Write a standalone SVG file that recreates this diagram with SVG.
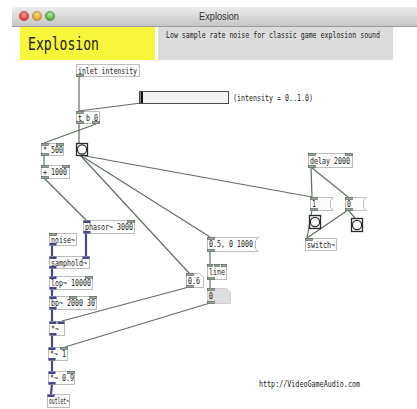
<svg xmlns="http://www.w3.org/2000/svg" width="417" height="409" viewBox="0 0 417 409">
<defs>
<linearGradient id="tb" x1="0" y1="0" x2="0" y2="1"><stop offset="0" stop-color="#ececec"/><stop offset="1" stop-color="#c6c6c6"/></linearGradient>
<radialGradient id="rd" cx="0.5" cy="0.35" r="0.6"><stop offset="0" stop-color="#f7a39c"/><stop offset="1" stop-color="#d6322b"/></radialGradient>
<radialGradient id="yl" cx="0.5" cy="0.35" r="0.6"><stop offset="0" stop-color="#f8db8a"/><stop offset="1" stop-color="#d89a1e"/></radialGradient>
<radialGradient id="gr" cx="0.5" cy="0.35" r="0.6"><stop offset="0" stop-color="#b6e8a4"/><stop offset="1" stop-color="#4aa33a"/></radialGradient>
</defs>
<style>
.box{fill:#fcfcfc;stroke:#bdbdbd;stroke-width:1}
.t{font-family:"DejaVu Sans Mono","Liberation Mono",monospace;font-size:9px;fill:#222}
.ci{fill:#97a597;stroke:#5c6b5c;stroke-width:0.7}
.si{fill:#45458c}
.cl{stroke:#5f6e5f;stroke-width:1.2;fill:none}
.sl{stroke:#47478c;stroke-width:2.2;fill:none}
.bng{fill:#fafafa;stroke:#2a2a2a;stroke-width:1.3}
</style>
<rect width="417" height="409" fill="#ffffff"/>
<g id="titlebar">
<path d="M12 26 V11 Q12 7 16 7 H417 V26 Z" fill="url(#tb)"/>
<line x1="12" y1="26.5" x2="417" y2="26.5" stroke="#9c9c9c" stroke-width="1"/>
<circle cx="24" cy="16" r="4.6" fill="url(#rd)" stroke="#a8342e" stroke-width="0.6"/>
<circle cx="37" cy="16" r="4.6" fill="url(#yl)" stroke="#a97a1c" stroke-width="0.6"/>
<circle cx="50" cy="16" r="4.6" fill="url(#gr)" stroke="#3b7f2e" stroke-width="0.6"/>
<text x="219" y="20" text-anchor="middle" font-family="Liberation Sans, Arial, sans-serif" font-size="10.5" fill="#333" textLength="40" lengthAdjust="spacingAndGlyphs">Explosion</text>
</g>
<g id="header">
<rect x="20" y="27" width="135" height="33" fill="#f6f63a"/>
<text x="28" y="50" font-family="DejaVu Sans Mono, monospace" font-size="17" fill="#1a1a1a" textLength="71" lengthAdjust="spacingAndGlyphs">Explosion</text>
<rect x="158" y="27" width="235" height="33" fill="#dcdcdc"/>
<text class="t" x="166" y="38" textLength="214" lengthAdjust="spacingAndGlyphs">Low sample rate noise for classic game explosion sound</text>
</g>
<g id="connectors">
<line class="cl" x1="79" y1="76" x2="79" y2="111"/>
<line class="cl" x1="141" y1="103" x2="79" y2="111"/>
<line class="cl" x1="96" y1="124" x2="44" y2="143"/>
<line class="cl" x1="79" y1="124" x2="79" y2="143"/>
<line class="cl" x1="44" y1="155" x2="44" y2="165"/>
<line class="cl" x1="44" y1="178" x2="86" y2="220"/>
<line class="cl" x1="80" y1="155" x2="312" y2="197"/>
<line class="cl" x1="80" y1="155" x2="210" y2="237"/>
<line class="cl" x1="80" y1="155" x2="189" y2="273"/>
<line class="cl" x1="210" y1="251" x2="210" y2="264"/>
<line class="cl" x1="210" y1="279" x2="210" y2="288"/>
<line class="cl" x1="189" y1="287" x2="62" y2="321"/>
<line class="cl" x1="210" y1="303" x2="65" y2="347"/>
<line class="cl" x1="311" y1="167" x2="312" y2="197"/>
<line class="cl" x1="311" y1="167" x2="348" y2="197"/>
<line class="cl" x1="312" y1="210" x2="307" y2="238"/>
<line class="cl" x1="348" y1="210" x2="355" y2="218"/>
<line class="cl" x1="348" y1="210" x2="307" y2="238"/>
<line class="sl" x1="52" y1="246" x2="52" y2="256"/>
<line class="sl" x1="86" y1="233" x2="86" y2="256"/>
<line class="sl" x1="52" y1="268" x2="52" y2="276"/>
<line class="sl" x1="52" y1="289" x2="52" y2="296"/>
<line class="sl" x1="52" y1="309" x2="52" y2="321"/>
<line class="sl" x1="52" y1="335" x2="52" y2="347"/>
<line class="sl" x1="52" y1="360" x2="52" y2="371"/>
<line class="sl" x1="52" y1="384" x2="51" y2="394"/>
</g>
<g id="inlet-intensity">
<rect class="box" x="76.5" y="64.5" width="63" height="12"/>
<text class="t" x="78" y="73.5" textLength="59" lengthAdjust="spacingAndGlyphs">inlet intensity</text>
<rect class="ci" x="76.5" y="74.5" width="7" height="2"/>
</g>
<g id="hslider">
<rect x="139.5" y="91.5" width="89" height="12" fill="#f2f2f2" stroke="#4a4a4a" stroke-width="1"/>
<rect x="140.5" y="92" width="2.5" height="11" fill="#111"/>
<text class="t" x="233" y="100.5" textLength="80" lengthAdjust="spacingAndGlyphs">(intensity = 0..1.0)</text>
</g>
<g id="trigger">
<rect class="box" x="76.5" y="111.5" width="23" height="12"/>
<text class="t" x="78" y="120.5" textLength="20" lengthAdjust="spacingAndGlyphs">t b 0</text>
<rect class="ci" x="76.5" y="111.5" width="7" height="2"/>
<rect class="ci" x="76.5" y="121.5" width="7" height="2"/>
<rect class="ci" x="92.5" y="121.5" width="7" height="2"/>
</g>
<g id="bang-main">
<rect class="bng" x="76.5" y="143.5" width="11" height="12"/>
<circle cx="82" cy="149.5" r="4.6" fill="#fff" stroke="#2a2a2a" stroke-width="1.2"/>
</g>
<g id="mul500">
<rect class="box" x="41.5" y="143.5" width="22" height="12"/>
<text class="t" x="43" y="152.5" textLength="20" lengthAdjust="spacingAndGlyphs">* 500</text>
<rect class="ci" x="41.5" y="143.5" width="7" height="2"/>
<rect class="ci" x="56.5" y="143.5" width="7" height="2"/>
<rect class="ci" x="41.5" y="153.5" width="7" height="2"/>
</g>
<g id="add1000">
<rect class="box" x="41.5" y="165.5" width="28" height="13"/>
<text class="t" x="43" y="175" textLength="24" lengthAdjust="spacingAndGlyphs">+ 1000</text>
<rect class="ci" x="41.5" y="165.5" width="7" height="2"/>
<rect class="ci" x="62.5" y="165.5" width="7" height="2"/>
<rect class="ci" x="41.5" y="176.5" width="7" height="2"/>
</g>
<g id="phasor">
<rect class="box" x="83.5" y="220.5" width="51" height="13"/>
<text class="t" x="85" y="230" textLength="48" lengthAdjust="spacingAndGlyphs">phasor~ 3000</text>
<rect class="si" x="83.5" y="220.5" width="7" height="2.5"/>
<rect class="ci" x="127.5" y="220.5" width="7" height="2"/>
<rect class="si" x="83.5" y="231" width="7" height="2.5"/>
</g>
<g id="noise">
<rect class="box" x="49.5" y="233.5" width="27" height="12"/>
<text class="t" x="51" y="242.5" textLength="24" lengthAdjust="spacingAndGlyphs">noise~</text>
<rect class="ci" x="49.5" y="233.5" width="7" height="2"/>
<rect class="si" x="49.5" y="243" width="7" height="2.5"/>
</g>
<g id="samphold">
<rect class="box" x="49.5" y="256.5" width="40" height="12"/>
<text class="t" x="51" y="265.5" textLength="36" lengthAdjust="spacingAndGlyphs">samphold~</text>
<rect class="si" x="49.5" y="256.5" width="7" height="2.5"/>
<rect class="si" x="82.5" y="256.5" width="7" height="2.5"/>
<rect class="si" x="49.5" y="266" width="7" height="2.5"/>
</g>
<g id="lop">
<rect class="box" x="49.5" y="276.5" width="43" height="13"/>
<text class="t" x="51" y="286" textLength="40" lengthAdjust="spacingAndGlyphs">lop~ 10000</text>
<rect class="si" x="49.5" y="276.5" width="7" height="2.5"/>
<rect class="ci" x="85.5" y="276.5" width="7" height="2"/>
<rect class="si" x="49.5" y="287" width="7" height="2.5"/>
</g>
<g id="bp">
<rect class="box" x="49.5" y="296.5" width="47" height="13"/>
<text class="t" x="51" y="306" textLength="44" lengthAdjust="spacingAndGlyphs">bp~ 2000 30</text>
<rect class="si" x="49.5" y="296.5" width="7" height="2.5"/>
<rect class="ci" x="69.5" y="296.5" width="7" height="2"/>
<rect class="ci" x="89.5" y="296.5" width="7" height="2"/>
<rect class="si" x="49.5" y="307" width="7" height="2.5"/>
</g>
<g id="mulsig">
<rect class="box" x="49.5" y="321.5" width="15" height="14"/>
<text class="t" x="51" y="331.5" textLength="8" lengthAdjust="spacingAndGlyphs">*~</text>
<rect class="si" x="49.5" y="321.5" width="7" height="2.5"/>
<rect class="si" x="57.5" y="321.5" width="7" height="2.5"/>
<rect class="si" x="49.5" y="333" width="7" height="2.5"/>
</g>
<g id="mulsig1">
<rect class="box" x="48.5" y="347.5" width="19" height="13"/>
<text class="t" x="50" y="357" textLength="16" lengthAdjust="spacingAndGlyphs">*~ 1</text>
<rect class="si" x="48.5" y="347.5" width="7" height="2.5"/>
<rect class="ci" x="60.5" y="347.5" width="7" height="2"/>
<rect class="si" x="48.5" y="358" width="7" height="2.5"/>
</g>
<g id="mulsig09">
<rect class="box" x="48.5" y="371.5" width="26" height="13"/>
<text class="t" x="50" y="381" textLength="24" lengthAdjust="spacingAndGlyphs">*~ 0.9</text>
<rect class="si" x="48.5" y="371.5" width="7" height="2.5"/>
<rect class="ci" x="67.5" y="371.5" width="7" height="2"/>
<rect class="si" x="48.5" y="382" width="7" height="2.5"/>
</g>
<g id="outlet">
<rect class="box" x="47.5" y="394.5" width="22" height="13"/>
<text class="t" x="49" y="404" textLength="20" lengthAdjust="spacingAndGlyphs">outlet~</text>
<rect class="si" x="47.5" y="394.5" width="7" height="2.5"/>
</g>
<g id="msg-ramp">
<path class="box" d="M207.5 237.5 H258.5 L255.5 240.5 V248.5 L258.5 251.5 H207.5 Z"/>
<text class="t" x="209" y="247" textLength="44" lengthAdjust="spacingAndGlyphs">0.5, 0 1000</text>
<rect class="ci" x="207.5" y="237.5" width="7" height="2"/>
<rect class="ci" x="207.5" y="249.5" width="7" height="2"/>
</g>
<g id="line">
<rect class="box" x="207.5" y="264.5" width="19" height="15"/>
<text class="t" x="209" y="275" textLength="16" lengthAdjust="spacingAndGlyphs">line</text>
<rect class="ci" x="207.5" y="264.5" width="5" height="2"/>
<rect class="ci" x="214.5" y="264.5" width="5" height="2"/>
<rect class="ci" x="221.5" y="264.5" width="5" height="2"/>
<rect class="ci" x="207.5" y="277.5" width="7" height="2"/>
</g>
<g id="num06">
<path class="box" d="M186.5 273.5 H199.5 L203.5 277.5 V287.5 H186.5 Z"/>
<text class="t" x="188" y="283.5" textLength="12" lengthAdjust="spacingAndGlyphs">0.6</text>
<rect class="ci" x="186.5" y="273.5" width="7" height="2"/>
<rect class="ci" x="186.5" y="285.5" width="7" height="2"/>
</g>
<g id="num0">
<path d="M207.5 288.5 H226.5 L230.5 292.5 V303.5 H207.5 Z" fill="#dedede" stroke="#cfcfcf" stroke-width="1"/>
<text class="t" x="209" y="299" textLength="4" lengthAdjust="spacingAndGlyphs">0</text>
<rect class="ci" x="207.5" y="288.5" width="7" height="2"/>
<rect class="ci" x="207.5" y="301.5" width="7" height="2"/>
</g>
<g id="delay">
<rect class="box" x="308.5" y="153.5" width="44" height="14"/>
<text class="t" x="310" y="163.5" textLength="40" lengthAdjust="spacingAndGlyphs">delay 2000</text>
<rect class="ci" x="308.5" y="153.5" width="7" height="2"/>
<rect class="ci" x="345.5" y="153.5" width="7" height="2"/>
<rect class="ci" x="308.5" y="165.5" width="7" height="2"/>
</g>
<g id="msg1">
<path class="box" d="M310.5 197.5 H333.5 L330.5 200.5 V207.5 L333.5 210.5 H310.5 Z"/>
<text class="t" x="312" y="207" textLength="4" lengthAdjust="spacingAndGlyphs">1</text>
<rect class="ci" x="310.5" y="197.5" width="7" height="2"/>
<rect class="ci" x="310.5" y="208.5" width="7" height="2"/>
</g>
<g id="msg0">
<path class="box" d="M345.5 197.5 H366.5 L363.5 200.5 V207.5 L366.5 210.5 H345.5 Z"/>
<text class="t" x="347" y="207" textLength="4" lengthAdjust="spacingAndGlyphs">0</text>
<rect class="ci" x="345.5" y="197.5" width="7" height="2"/>
<rect class="ci" x="345.5" y="208.5" width="7" height="2"/>
</g>
<g id="bang-on">
<rect class="bng" x="309.5" y="215.5" width="11" height="13"/>
<circle cx="315" cy="222" r="4.6" fill="#fff" stroke="#2a2a2a" stroke-width="1.2"/>
</g>
<g id="bang-off">
<rect class="bng" x="351.5" y="218.5" width="11" height="13"/>
<circle cx="357" cy="225" r="4.6" fill="#fff" stroke="#2a2a2a" stroke-width="1.2"/>
</g>
<g id="switch">
<rect class="box" x="305.5" y="238.5" width="31" height="12"/>
<text class="t" x="307" y="247.5" textLength="28" lengthAdjust="spacingAndGlyphs">switch~</text>
<rect class="ci" x="305.5" y="238.5" width="7" height="2"/>
</g>
<g id="credit">
<text class="t" x="259" y="387" textLength="101" lengthAdjust="spacingAndGlyphs">http://VideoGameAudio.com</text>
</g>
</svg>
